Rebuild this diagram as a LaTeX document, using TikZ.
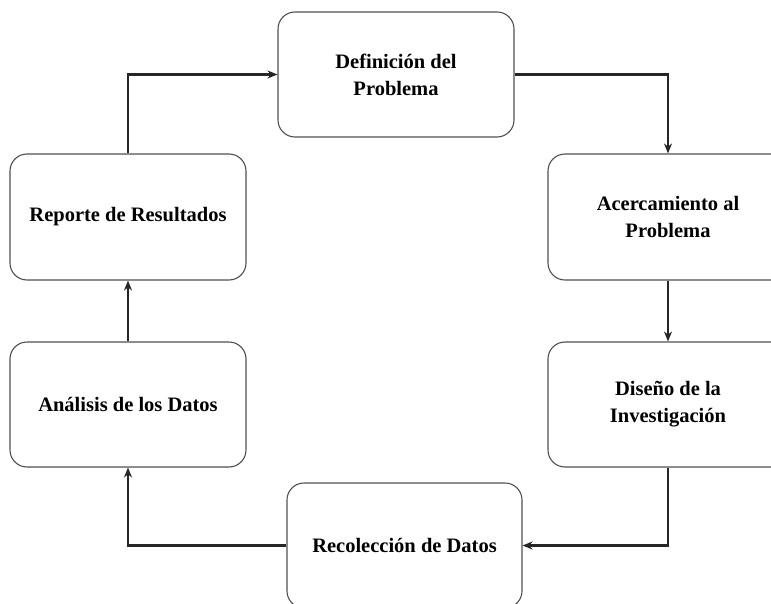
\documentclass[tikz,border=0pt]{standalone}
\usepackage{fontspec}
\setmainfont{Liberation Serif}
\usetikzlibrary{arrows.meta}
\definecolor{boxline}{HTML}{505050}
\begin{document}
\begin{tikzpicture}[x=1pt,y=-1pt,
  stagebox/.style={draw=boxline,line width=1.1pt,rounded corners=17pt,fill=white,
    align=center,inner sep=0pt,font=\bfseries\fontsize{20.5}{27}\selectfont},
  flow/.style={draw=black!85,line width=2.2pt,-{Stealth[length=10pt,width=8pt]}}]
\clip (0,0) rectangle (771,604);
\fill[white] (0,0) rectangle (771,604);
\node[stagebox,minimum width=236pt,minimum height=125pt] (def) at (396,74.5) {Definición del\\Problema};
\node[stagebox,minimum width=240pt,minimum height=126pt] (acer) at (668,217) {Acercamiento al\\Problema};
\node[stagebox,minimum width=240pt,minimum height=125pt] (dis) at (668,404.5) {Diseño de la\\Investigación};
\node[stagebox,minimum width=235pt,minimum height=125pt] (rec) at (404.5,545.5) {Recolección de Datos};
\node[stagebox,minimum width=236pt,minimum height=125pt] (ana) at (128,404.5) {Análisis de los Datos};
\node[stagebox,minimum width=236pt,minimum height=126pt] (rep) at (128,217) {Reporte de Resultados};
\draw[flow] (def.east) -| (acer.north);
\draw[flow] (acer.south) -- (dis.north);
\draw[flow] (dis.south) |- (rec.east);
\draw[flow] (rec.west) -| (ana.south);
\draw[flow] (ana.north) -- (rep.south);
\draw[flow] (rep.north) |- (def.west);
\end{tikzpicture}
\end{document}
